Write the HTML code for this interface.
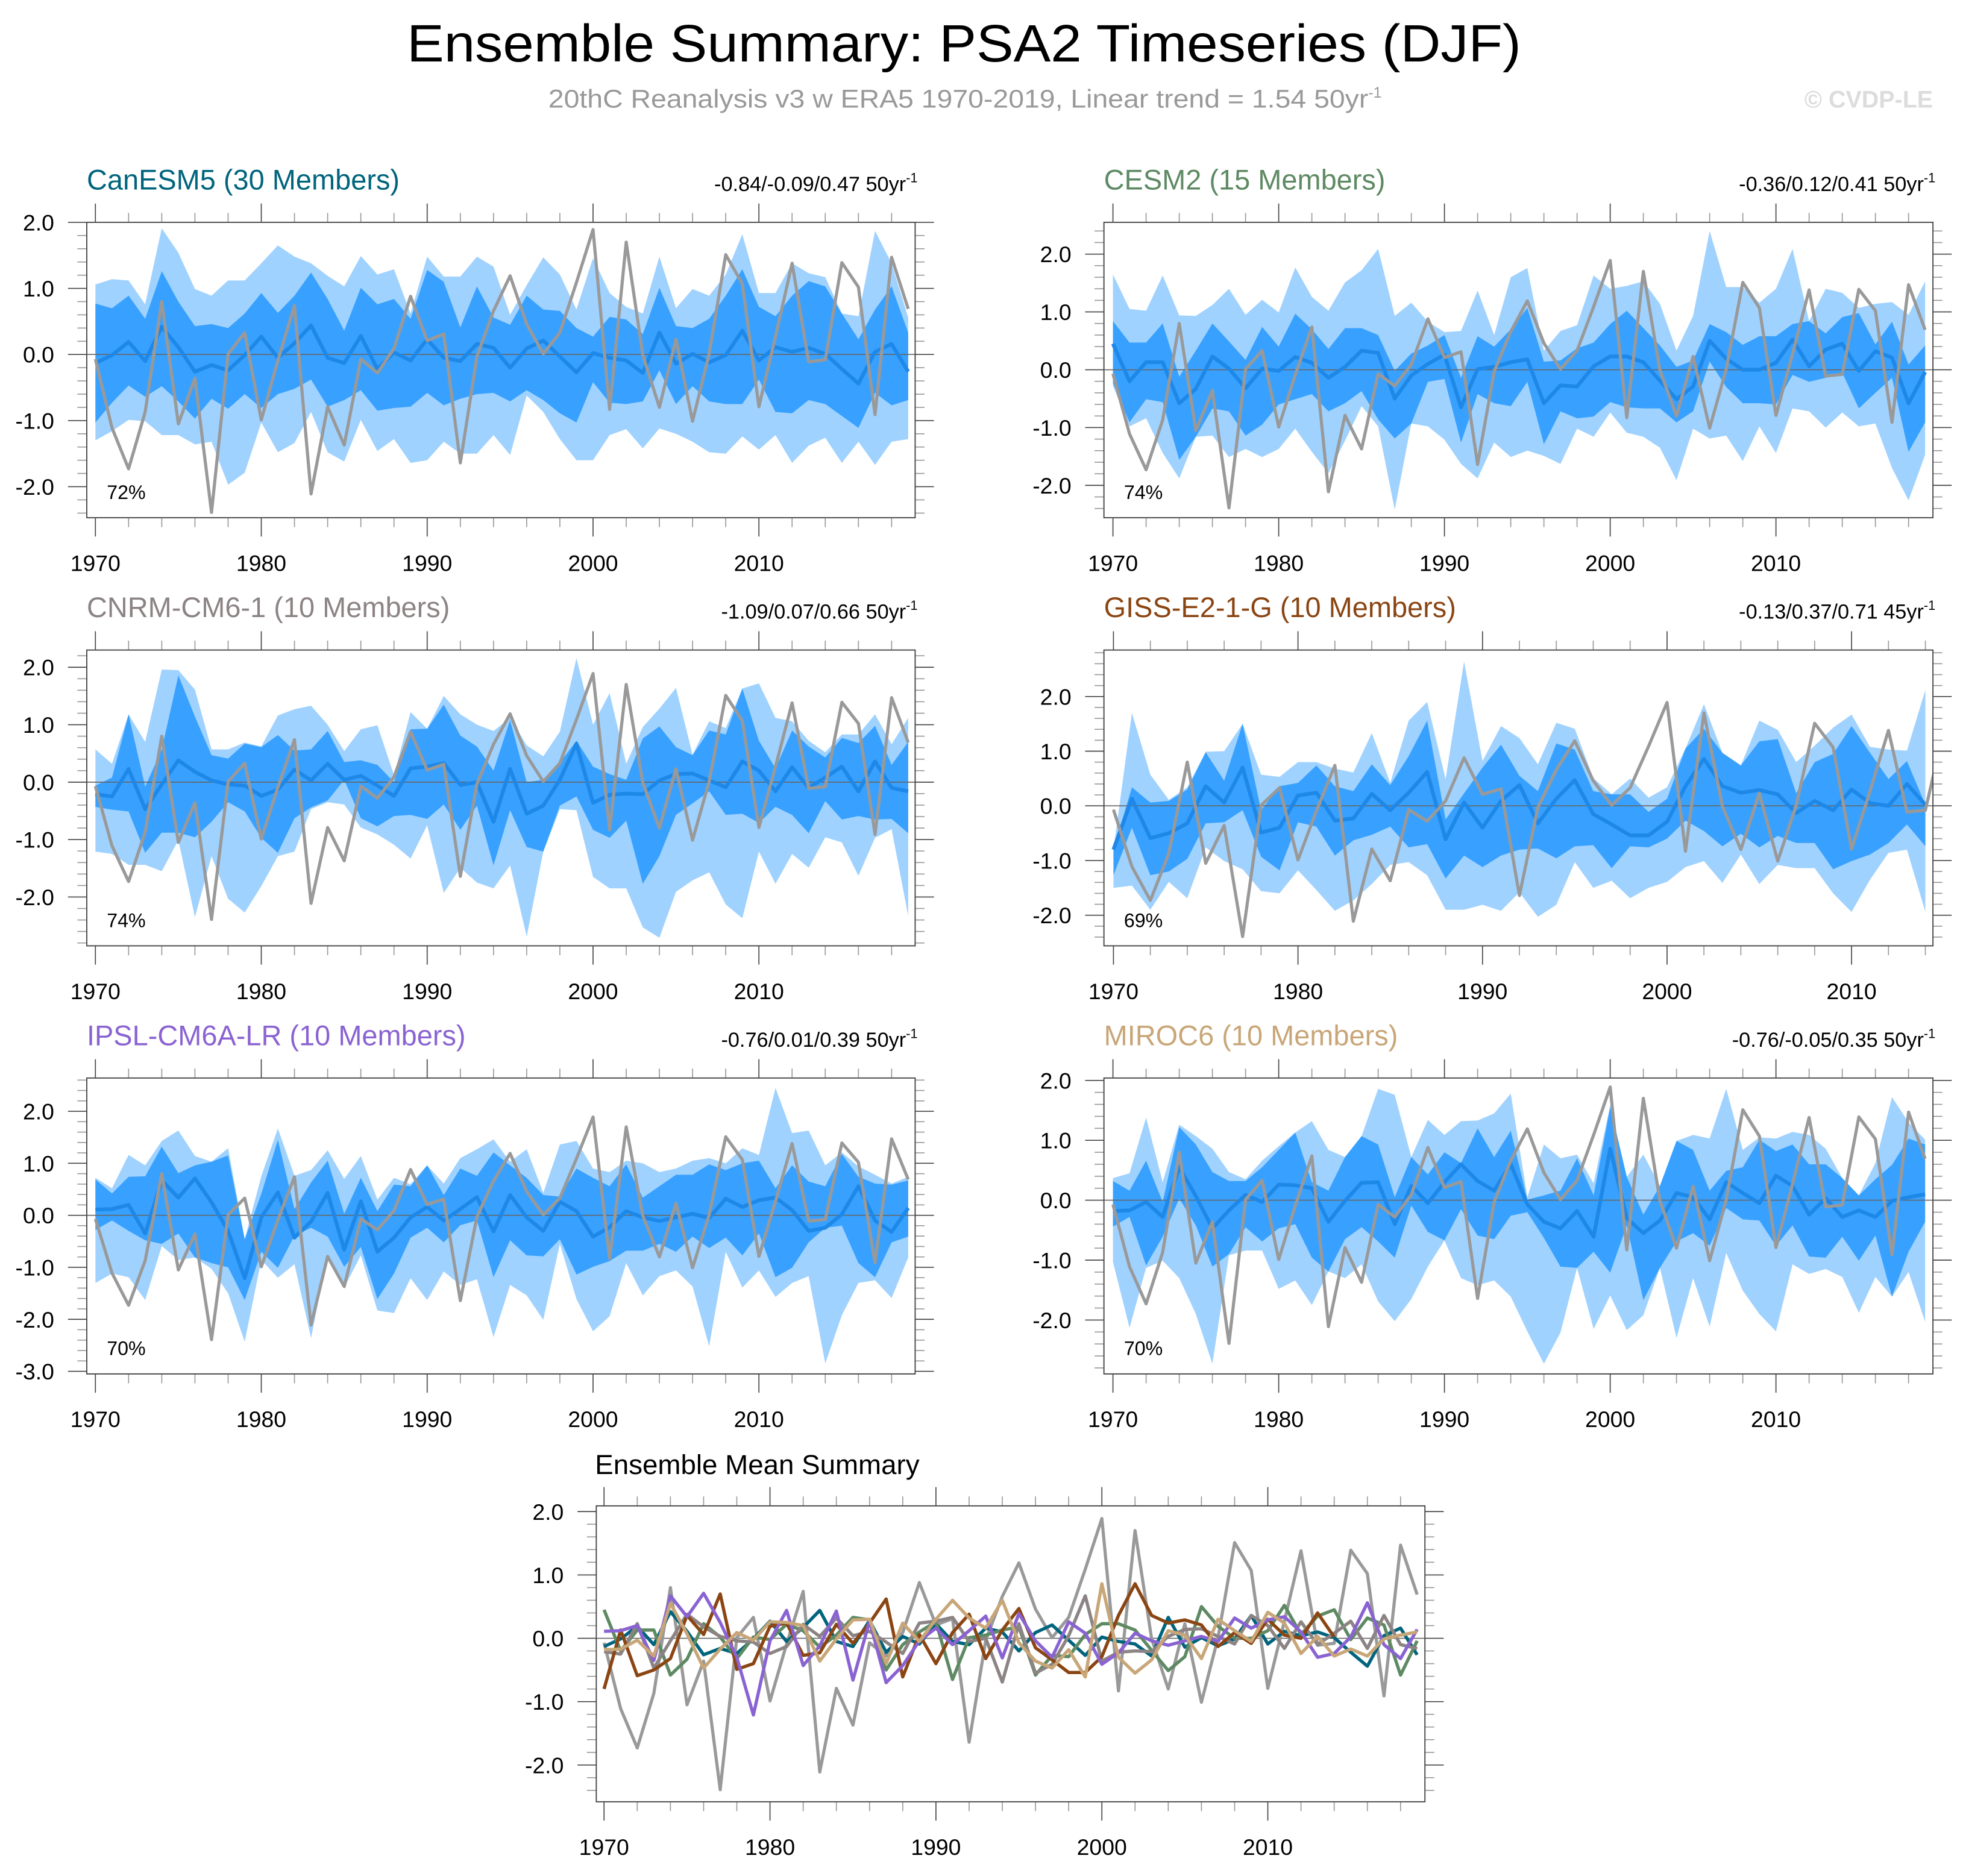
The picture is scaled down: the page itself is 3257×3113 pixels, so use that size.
<!DOCTYPE html>
<html>
<head>
<meta charset="utf-8">
<style>
html,body{margin:0;padding:0;background:#fff;}
svg{display:block;}
text{font-family:"Liberation Sans",Arial,sans-serif;}
</style>
</head>
<body>
<svg id="chart" xmlns="http://www.w3.org/2000/svg" width="3257" height="3113" viewBox="0 0 1568 1498.7">
  <rect x="0" y="0" width="1568" height="1498.7" fill="#fff"/>
  <text x="770" y="49" text-anchor="middle" font-size="42" textLength="890" lengthAdjust="spacingAndGlyphs" fill="#000">Ensemble Summary: PSA2 Timeseries (DJF)</text>
  <text x="438" y="86" font-size="20.5" fill="#999"><tspan textLength="655" lengthAdjust="spacingAndGlyphs">20thC Reanalysis v3 w ERA5 1970-2019, Linear trend = 1.54 50yr</tspan><tspan dy="-8" font-size="12">-1</tspan></text>
  <text x="1544" y="86" text-anchor="end" font-size="19" font-weight="bold" fill="#dcdcdc">© CVDP-LE</text>
  <g id="panels"></g>
</svg>
<script>
// ---------- data ----------
const xLabels = ['1970','1980','1990','2000','2010'];
const yTicks5 = [2, 1, 0, -1, -2];
const yTicks6 = [2, 1, 0, -1, -2, -3];

const obs = [-0.07,-1.11,-1.73,-0.87,0.8,-1.05,-0.36,-2.39,0.01,0.33, -0.99,-0.09,0.74,-2.11,-0.79,-1.37,-0.07,-0.28,0.09,0.88, 0.21,0.31,-1.64,-0.03,0.66,1.19,0.46,0.01,0.33,1.09, 1.89,-0.83,1.7,-0.01,-0.8,0.23,-1.01,0.01,1.51,1.07, -0.79,0.27,1.38,-0.11,-0.08,1.39,1.02,-0.91,1.47,0.69];

// CanESM5
const p1Mean = [-0.13,-0.01,0.19,-0.1,0.42,0.11,-0.26,-0.16,-0.24,-0.01, 0.27,-0.05,0.17,0.44,-0.05,-0.13,0.28,-0.22,0.03,-0.09, 0.23,-0.05,-0.1,0.16,0.1,-0.2,0.09,0.21,-0.03,-0.27, 0.02,-0.05,-0.09,-0.28,0.33,-0.14,0.01,-0.12,-0.01,0.36, -0.09,0.11,0.04,0.1,0.01,-0.22,-0.44,0.04,0.16,-0.26];
const p1DarkHi = [0.77,0.7,0.89,0.54,1.26,0.8,0.43,0.46,0.4,0.62, 0.93,0.63,0.89,1.24,0.84,0.36,1.01,0.76,0.84,0.54, 1.28,1.1,0.41,1.03,0.56,0.45,0.89,0.68,0.66,0.4, 0.27,0.57,0.53,0.31,1.01,0.43,0.4,0.54,0.89,1.29, 0.72,0.58,0.89,1.11,1.03,0.62,0.23,0.68,1.03,0.33];
const p1DarkLo = [-1.03,-0.73,-0.47,-0.64,-0.48,-0.71,-0.97,-0.67,-0.82,-0.6, -0.81,-0.6,-0.52,-0.38,-0.79,-0.69,-0.54,-0.85,-0.81,-0.79, -0.58,-0.77,-0.67,-0.6,-0.58,-0.71,-0.54,-0.69,-0.89,-1.03, -0.42,-0.73,-0.75,-0.71,-0.24,-0.75,-0.48,-0.71,-0.75,-0.75, -0.38,-0.87,-0.89,-0.69,-0.75,-0.93,-1.11,-0.58,-0.77,-0.69];
const p1LightHi = [1.06,1.14,1.12,0.76,1.91,1.54,0.99,0.89,1.12,1.12, 1.38,1.65,1.48,1.38,1.19,1.03,1.49,1.21,1.29,0.62, 1.48,1.18,1.18,1.48,1.33,0.6,1.05,1.47,1.21,0.68, 1.46,0.93,0.72,0.62,1.48,0.7,0.99,0.89,1.21,1.82, 0.93,0.93,1.38,1.23,1.17,0.57,0.58,1.87,1.38,0.56];
const p1LightLo = [-1.3,-1.16,-0.99,-1.01,-1.22,-1.22,-1.36,-1.32,-1.97,-1.79, -1.03,-1.48,-1.34,-0.87,-1.48,-1.62,-0.99,-1.46,-1.28,-1.64, -1.6,-1.32,-1.5,-1.5,-1.22,-1.52,-0.62,-0.87,-1.28,-1.6, -1.6,-1.22,-1.13,-1.42,-1.12,-1.2,-1.32,-1.48,-1.5,-1.24, -1.44,-1.22,-1.64,-1.38,-1.26,-1.64,-1.32,-1.67,-1.32,-1.28];

// CESM2
const p2Mean = [0.45,-0.2,0.13,0.13,-0.58,-0.33,0.23,0.02,-0.32,0.02, -0.02,0.22,0.12,-0.14,0.05,0.33,0.29,-0.5,-0.1,0.1, 0.26,-0.65,0.01,0.05,0.13,0.18,-0.58,-0.27,-0.29,0.06, 0.23,0.23,0.13,-0.19,-0.51,-0.29,0.5,0.19,0,0, 0.12,0.52,0.06,0.35,0.45,-0.02,0.32,0.21,-0.58,-0.04];
const p2DarkHi = [0.84,0.47,0.47,0.8,-0.12,0.33,0.8,0.49,0.17,0.74, 0.4,0.97,0.7,0.36,0.72,0.72,0.6,-0.02,0.28,0.42, 0.6,-0.14,0.58,0.4,0.7,1.07,0.14,0.16,0.37,0.47, 0.79,1.02,0.72,0.42,0.05,0.16,0.79,0.65,0.43,0.58, 0.58,0.79,0.84,0.63,0.91,0.98,0.44,0.83,0.09,0.42];
const p2DarkLo = [-0.23,-0.91,-0.51,-0.56,-1.56,-1.16,-0.67,-0.72,-1.14,-0.95, -0.6,-0.51,-0.42,-0.72,-0.58,-0.37,-0.86,-1.19,-0.93,-0.21, -0.16,-1.26,-0.42,-0.58,-0.63,-0.21,-1.29,-0.72,-0.84,-0.81, -0.56,-0.65,-0.67,-0.67,-0.91,-0.72,0.14,-0.3,-0.58,-0.58, -0.6,-0.09,-0.21,-0.14,-0.05,-0.67,-0.4,-0.14,-1.42,-0.91];
const p2LightHi = [1.65,1.05,1.02,1.63,0.94,0.93,1.12,1.4,0.95,1.21, 0.99,1.77,1.26,1.02,1.51,1.72,2.09,0.93,1.16,0.83, 0.65,0.67,1.37,0.6,1.6,1.76,0.33,0.67,0.77,1.63, 1.4,1.45,1.53,1.14,0.33,0.93,2.4,1.43,1.43,1.16, 1.4,2.09,0.81,1.4,1.33,1.07,1.14,1.17,0.95,1.53];
const p2LightLo = [-0.28,-0.98,-0.84,-1.44,-1.88,-1.16,-1.14,-1.51,-1.37,-1.51, -1.37,-1.02,-1.42,-1.79,-1.23,-0.63,-0.98,-2.42,-0.91,-0.98, -1.21,-1.63,-1.88,-1.26,-1.51,-1.4,-1.49,-1.63,-1.02,-1.16, -0.74,-1.09,-1.16,-1.35,-1.91,-1.02,-1.19,-1.14,-1.58,-0.98, -1.44,-0.67,-0.72,-1.0,-0.74,-0.98,-0.93,-1.7,-2.26,-1.47];

// CNRM-CM6-1
const p3Mean = [-0.21,-0.25,0.23,-0.47,-0.04,0.38,0.18,0.03,-0.04,-0.06, -0.24,-0.13,0.22,0.03,0.32,0.04,0.11,-0.06,-0.24,0.24, 0.27,0.33,-0.05,0,-0.69,0.23,-0.55,-0.41,0.04,0.67, -0.36,-0.22,-0.2,-0.21,0.03,0.14,0.15,0.03,-0.09,0.36, 0.2,-0.16,0.26,-0.1,0.08,0.27,-0.16,0.36,-0.1,-0.16];
const p3DarkHi = [-0.06,0.08,1.18,-0.08,0.57,1.86,1.14,0.47,0.41,0.67, 0.61,0.82,0.55,0.57,0.89,0.35,0.38,0.3,0,0.92, 0.93,1.35,0.81,0.62,0.2,1.08,0,0.04,0.34,0.72, 0.27,0.14,0.04,0.76,0.97,0.61,0.47,0.9,0.83,1.63, 0.72,0.24,0.9,0.62,0.43,0.77,0.68,0.98,0.3,0.7];
const p3DarkLo = [-0.43,-0.48,-0.51,-1.23,-0.88,-0.88,-0.96,-0.69,-0.35,-0.51, -0.97,-1.23,-0.63,-0.44,-0.32,0.04,-0.63,-0.77,-0.59,-0.57, -0.64,-0.39,-0.83,-0.41,-1.45,-0.49,-1.13,-1.21,-0.41,-0.25, -0.83,-0.97,-0.67,-1.77,-1.29,-0.57,-0.37,-0.16,-0.57,-0.55, -0.71,-0.43,-0.57,-0.89,-0.33,-0.65,-0.59,-0.65,-0.64,-0.89];
const p3LightHi = [0.57,0.32,1.16,0.7,1.96,1.95,1.61,0.57,0.57,0.69, 0.62,1.16,1.27,1.33,1.0,0.54,0.92,0.99,0.12,1.22, 0.93,1.5,1.18,1.0,0.89,1.12,0.64,0.45,0.88,2.16, 1.0,1.55,0.32,0.96,1.28,1.64,0.48,1.06,0.94,1.63, 1.72,1.12,1.06,0.72,0.52,0.83,0.83,1.18,0.66,1.12];
const p3LightLo = [-1.21,-1.25,-1.44,-1.44,-1.55,-1.01,-2.35,-1.29,-2.03,-2.27, -1.81,-1.29,-1.21,-0.47,-0.35,-0.39,-0.79,-0.91,-1.09,-1.33, -0.75,-1.93,-1.49,-1.75,-1.85,-1.45,-2.69,-1.21,-0.47,-0.49, -1.65,-1.85,-1.85,-2.53,-2.71,-1.91,-1.71,-1.57,-2.13,-2.37, -1.21,-1.77,-1.25,-1.49,-0.96,-1.05,-1.63,-0.97,-0.82,-2.33];

// GISS-E2-1-G (1970-2014)
const p4Mean = [-0.8,0.13,-0.59,-0.5,-0.32,0.36,0.06,0.7,-0.49,-0.4, 0.19,0.24,-0.27,-0.23,0.22,-0.08,0.24,0.62,-0.61,0.06, -0.4,0.09,0.38,-0.32,0.13,0.47,-0.15,-0.34,-0.54,-0.54, -0.29,0.36,0.86,0.36,0.24,0.29,0.21,-0.13,0.09,-0.08, 0.3,0.05,0,0.4,0.02];
const p4DarkHi = [-0.8,0.34,0.06,0.09,0.3,0.98,0.46,1.5,-0.08,0.36, 0.42,0.74,0.36,0.27,0.76,0.38,0.91,1.56,-0.25,0.23, 0.7,1.12,0.55,0.27,1.14,1.03,0.27,0.21,0.21,-0.11, 0.13,1.05,1.41,0.97,0.74,1.18,1.22,0.23,0.8,0.95, 1.46,0.97,0.49,0.82,0.02];
const p4DarkLo = [-1.27,-0.4,-1.27,-1.2,-0.97,-0.32,-0.3,-0.08,-0.93,-1.18, -0.3,-0.38,-0.91,-0.63,-0.53,-0.38,-0.76,-0.7,-1.33,-0.91, -1.12,-0.91,-0.8,-0.78,-0.96,-0.74,-0.72,-1.14,-0.74,-0.76, -0.6,-0.27,-0.46,-0.74,-0.51,-0.76,-0.55,-0.68,-0.68,-1.16, -1.01,-0.89,-0.68,-0.34,-0.74];
const p4LightHi = [-0.8,1.7,0.57,0.11,0.34,0.99,1.0,1.5,0.57,0.53, 0.8,0.8,0.68,0.61,1.33,0.42,1.56,1.9,0.49,2.64, 0.82,1.46,1.24,0.76,1.52,1.41,0.51,0.21,0.5,0.15, 0.34,0.76,1.86,0.97,0.74,1.56,1.39,0.8,1.1,1.43, 1.67,1.08,1.03,1.01,2.12];
const p4LightLo = [-1.5,-1.46,-1.9,-1.39,-1.69,-0.76,-1.01,-1.16,-1.56,-1.6, -1.18,-1.54,-1.92,-1.73,-1.43,-1.08,-1.03,-1.27,-1.9,-1.9, -1.81,-1.92,-1.58,-2.03,-1.81,-1.03,-1.5,-1.37,-1.69,-1.5, -1.39,-1.12,-1.01,-1.41,-0.89,-1.43,-1.08,-1.14,-1.14,-1.6, -1.94,-1.35,-0.86,-0.8,-1.94];

// IPSL-CM6A-LR
const p5Mean = [0.11,0.12,0.2,-0.35,0.67,0.34,0.71,0.25,-0.3,-1.21, -0.04,0.44,-0.43,-0.12,0.43,-0.66,0.27,-0.7,-0.43,-0.04, 0.16,-0.1,0.12,0.35,-0.31,0.39,-0.04,-0.3,0.26,0.08, -0.41,-0.23,0.08,-0.04,-0.11,-0.04,0.03,-0.05,0.32,0.16, 0.29,0.34,0.1,-0.3,-0.24,0.02,0.56,-0.1,-0.32,0.14];
const p5DarkHi = [0.69,0.42,0.74,0.75,1.32,0.81,0.96,1.03,1.15,-0.46, 0.41,1.45,0.12,0.63,1.05,0.03,0.72,0.08,0.59,0.56, 0.96,0.39,0.9,0.76,1.21,0.96,0.72,0.39,0.36,0.9, 0.72,0.56,0.98,0.34,0.56,0.78,0.78,0.98,0.87,1.0, 1.05,0.52,0.96,0.65,0.56,1.18,0.74,0.61,0.59,0.67];
const p5DarkLo = [-0.28,-0.1,-0.3,-0.48,-0.55,-0.35,-0.81,-0.92,-1.0,-1.63, -0.7,-1.01,-0.39,-0.24,-0.41,-0.99,-0.61,-1.61,-1.12,-0.43, -0.24,-0.52,-0.19,-0.1,-1.19,-0.48,-0.77,-0.79,-0.46,-1.14, -0.99,-0.88,-0.68,-0.68,-0.55,-0.7,-0.41,-0.63,-0.43,-0.77, -0.35,-1.19,-1.01,-0.52,-0.24,-0.2,-0.92,-1.19,-0.52,-0.41];
const p5LightHi = [0.72,0.52,1.16,0.96,1.43,1.63,1.14,1.0,1.29,-0.46, 0.75,1.67,0.76,0.87,1.25,0.7,1.14,0.3,0.72,0.6, 0.96,0.61,1.1,1.27,1.46,1.03,1.27,0.43,1.36,1.43, 0.9,0.83,1.05,1.0,0.83,0.9,1.05,1.1,1.0,1.29, 1.16,2.45,1.58,1.63,0.96,1.21,0.94,0.78,0.61,0.74];
const p5LightLo = [-1.3,-1.12,-1.19,-1.63,-0.59,-0.86,-0.72,-1.03,-1.5,-2.43, -0.86,-1.2,-0.94,-2.36,-0.77,-1.39,-0.77,-1.83,-1.88,-1.21, -1.63,-1.08,-1.34,-1.23,-2.34,-1.34,-1.54,-2.01,-0.55,-1.61, -2.23,-1.94,-0.92,-1.54,-1.17,-1.06,-1.37,-2.52,-0.7,-1.39, -1.06,-1.57,-1.3,-1.17,-2.85,-1.92,-1.3,-1.25,-1.59,-0.81];

// MIROC6
const p6Mean = [-0.18,-0.17,-0.03,-0.28,0.55,0.07,-0.47,-0.17,0.09,-0.03, 0.26,0.25,0.2,-0.36,-0.01,0.29,0.3,-0.4,0.24,-0.05, 0.3,0.6,0.32,0.16,0.6,-0.07,-0.36,-0.47,-0.18,-0.61, 0.86,-0.3,-0.55,-0.34,0.12,0.05,-0.32,0.3,0.12,-0.05, 0.41,0.24,-0.24,0.03,-0.28,-0.17,-0.28,-0.01,0.05,0.1];
const p6DarkHi = [0.32,0.16,0.66,-0.03,1.22,0.93,0.47,0.32,0.32,0.55, 0.84,1.13,0.3,0.16,0.72,1.07,0.93,0.05,0.72,0.43, 0.8,0.62,1.2,0.72,1.16,0.01,0.08,0.16,0.7,0.08, 1.55,0.39,-0.24,0.24,0.99,0.84,0.16,0.49,0.55,1.01, 0.82,0.93,0.6,0.6,0.37,0.08,0.35,0.59,1.03,0.93];
const p6DarkLo = [-0.44,-0.28,-1.09,-0.61,0.03,-0.42,-1.11,-0.9,-0.45,-0.69, -0.47,-0.4,-0.96,-1.19,-0.65,-0.45,-0.69,-0.96,-0.09,-0.53, -0.67,-0.15,-0.59,-0.65,-0.26,-0.2,-0.63,-1.11,-1.13,-0.86, -1.21,-0.42,-1.67,-1.13,-0.69,-0.55,-0.76,-0.13,-0.32,-0.34, -0.76,-0.42,-0.94,-0.96,-0.61,-1.01,-0.59,-1.61,-0.86,-0.36];
const p6LightHi = [0.37,0.45,1.38,0.3,1.26,1.07,0.86,0.47,0.35,0.66, 0.9,1.13,1.32,0.84,0.7,0.84,1.86,1.76,0.66,1.34, 1.09,1.32,1.33,1.45,1.78,0.05,0.93,0.7,0.76,0.28, 1.59,0.32,0.76,0.1,0.1,1.09,1.03,1.86,0.84,1.05, 1.03,1.14,1.09,0.86,0.24,0.05,0.62,1.72,1.3,1.01];
const p6LightLo = [-1.03,-2.13,-1.13,-1.01,-1.3,-1.9,-2.73,-0.92,-0.84,-0.84, -1.48,-1.34,-1.75,-0.86,-1.3,-1.07,-1.69,-2.02,-1.65,-1.11, -0.3,-1.3,-1.42,-1.34,-1.61,-2.19,-2.73,-2.21,-0.61,-2.15, -1.59,-2.17,-1.92,-1.01,-2.3,-1.3,-2.11,-0.88,-1.51,-1.9, -2.19,-1.07,-1.23,-1.15,-1.28,-1.88,-1.28,-1.15,-1.2,-2.03];

// ---------- layout (not data) ----------
const panels = [
  {key:'canesm5', title:'CanESM5 (30 Members)', color:'#00647d', trend:'-0.84/-0.09/0.47 50yr', pct:'72%',
   left:69.3,right:731,top:177.6,bottom:413.6,yMin:-2.47,yMax:2.0,x0:76.2,dx:13.25,ticks:yTicks5,
   mean:p1Mean,darkHi:p1DarkHi,darkLo:p1DarkLo,lightHi:p1LightHi,lightLo:p1LightLo},
  {key:'cesm2', title:'CESM2 (15 Members)', color:'#5e8a63', trend:'-0.36/0.12/0.41 50yr', pct:'74%',
   left:881.8,right:1544,top:177.6,bottom:413.6,yMin:-2.56,yMax:2.55,x0:889,dx:13.24,ticks:yTicks5,
   mean:p2Mean,darkHi:p2DarkHi,darkLo:p2DarkLo,lightHi:p2LightHi,lightLo:p2LightLo},
  {key:'cnrm-cm6-1', title:'CNRM-CM6-1 (10 Members)', color:'#8c8384', trend:'-1.09/0.07/0.66 50yr', pct:'74%',
   left:69.3,right:731,top:519.3,bottom:755.6,yMin:-2.85,yMax:2.30,x0:76.2,dx:13.25,ticks:yTicks5,
   mean:p3Mean,darkHi:p3DarkHi,darkLo:p3DarkLo,lightHi:p3LightHi,lightLo:p3LightLo},
  {key:'giss-e2-1-g', title:'GISS-E2-1-G (10 Members)', color:'#8b4513', trend:'-0.13/0.37/0.71 45yr', pct:'69%',
   left:881.8,right:1544,top:519.3,bottom:755.6,yMin:-2.56,yMax:2.85,x0:889.4,dx:14.74,ticks:yTicks5,
   mean:p4Mean,darkHi:p4DarkHi,darkLo:p4DarkLo,lightHi:p4LightHi,lightLo:p4LightLo},
  {key:'ipsl-cm6a-lr', title:'IPSL-CM6A-LR (10 Members)', color:'#8a63d2', trend:'-0.76/0.01/0.39 50yr', pct:'70%',
   left:69.3,right:731,top:861.2,bottom:1097.6,yMin:-3.05,yMax:2.64,x0:76.2,dx:13.25,ticks:yTicks6,
   mean:p5Mean,darkHi:p5DarkHi,darkLo:p5DarkLo,lightHi:p5LightHi,lightLo:p5LightLo},
  {key:'miroc6', title:'MIROC6 (10 Members)', color:'#c8a678', trend:'-0.76/-0.05/0.35 50yr', pct:'70%',
   left:881.8,right:1544,top:861.2,bottom:1097.6,yMin:-2.9,yMax:2.04,x0:889,dx:13.24,ticks:yTicks5,
   mean:p6Mean,darkHi:p6DarkHi,darkLo:p6DarkLo,lightHi:p6LightHi,lightLo:p6LightLo}
];
const summary = {left:476.3,right:1138.2,top:1203,bottom:1439.4,yMin:-2.58,yMax:2.09,x0:482.5,dx:13.255,ticks:yTicks5};

const NS = 'http://www.w3.org/2000/svg';
const root = document.getElementById('panels');
function mk(tag, attrs, parent){
  const e = document.createElementNS(NS, tag);
  for (const k in attrs) e.setAttribute(k, attrs[k]);
  parent.appendChild(e);
  return e;
}
function scales(p){
  const xs = i => p.x0 + i * p.dx;
  const ys = v => p.top + (p.yMax - v) / (p.yMax - p.yMin) * (p.bottom - p.top);
  return {xs, ys};
}
function linePts(arr, s){ return arr.map((v,i)=> s.xs(i).toFixed(2)+','+s.ys(v).toFixed(2)).join(' '); }
function bandPts(hi, lo, s){
  const a = hi.map((v,i)=> s.xs(i).toFixed(2)+','+s.ys(v).toFixed(2));
  const b = lo.map((v,i)=> s.xs(i).toFixed(2)+','+s.ys(v).toFixed(2)).reverse();
  return a.concat(b).join(' ');
}

function drawAxes(p, g, nYears, key){
  const s = scales(p);
  for (let yr = 0; yr < nYears; yr += 2){
    const major = yr % 10 === 0;
    const len = major ? 15 : 7.5;
    const x = s.xs(yr);
    const t1 = mk('line', {x1:x, x2:x, y1:p.top, y2:p.top-len, stroke: major?'#444':'#999', 'stroke-width':0.8}, g);
    
    
    const t2 = mk('line', {x1:x, x2:x, y1:p.bottom, y2:p.bottom+len, stroke: major?'#444':'#999', 'stroke-width':0.8}, g);
    
    
  }
  xLabels.forEach((lab, k) => {
    const x = s.xs(k*10);
    const t = mk('text', {x:x, y:p.bottom+42.5, 'text-anchor':'middle', 'font-size':18, fill:'#000'}, g);
    t.textContent = lab;
    
    
  });
  const lo = Math.ceil(p.yMin/0.2 - 1e-6), hi = Math.floor(p.yMax/0.2 + 1e-6);
  for (let k = lo; k <= hi; k++){
    const v = k*0.2;
    const major = (k % 5 === 0);
    const len = major ? 15 : 7.5;
    const y = s.ys(v);
    const a = mk('line', {x1:p.left, x2:p.left-len, y1:y, y2:y, stroke: major?'#444':'#999', 'stroke-width':0.8}, g);
    
    
    const b = mk('line', {x1:p.right, x2:p.right+len, y1:y, y2:y, stroke: major?'#444':'#999', 'stroke-width':0.8}, g);
    
    
  }
  p.ticks.forEach(v => {
    const t = mk('text', {x:p.left-26, y:s.ys(v)+6.5, 'text-anchor':'end', 'font-size':18, fill:'#000'}, g);
    t.textContent = v.toFixed(1);
    
    
  });
  const cp = mk('clipPath', {id:'clip-'+key}, g);
  mk('rect', {x:p.left, y:p.top, width:p.right-p.left, height:p.bottom-p.top}, cp);
  return s;
}

panels.forEach(p => {
  const g = mk('g', {}, root);
  
  
  const n = p.mean.length;
  const s = drawAxes(p, g, n, p.key);
  const lh = p.lightHi.map((v,i)=> Math.max(v, p.darkHi[i]));
  const ll = p.lightLo.map((v,i)=> Math.min(v, p.darkLo[i]));
  const light = mk('polygon', {points: bandPts(lh, ll, s), fill:'#a0d2ff', stroke:'none'}, g);
  
  
  const dark = mk('polygon', {points: bandPts(p.darkHi, p.darkLo, s), fill:'#38a1ff', stroke:'none'}, g);
  
  
  const z = mk('line', {x1:p.left, x2:p.right, y1:s.ys(0), y2:s.ys(0), stroke:'#666', 'stroke-width':0.8}, g);
  
  
  const m = mk('polyline', {points: linePts(p.mean, s), fill:'none', stroke:'#1e88e8', 'stroke-width':3, 'stroke-linejoin':'round'}, g);
  
  
  const o = mk('polyline', {points: linePts(obs, s), fill:'none', stroke:'#999', 'stroke-width':2.5, 'stroke-linejoin':'round', 'clip-path':'url(#clip-'+p.key+')'}, g);
  
  
  const box = mk('rect', {x:p.left, y:p.top, width:p.right-p.left, height:p.bottom-p.top, fill:'none', stroke:'#444', 'stroke-width':0.9}, g);
  
  
  const t = mk('text', {x:p.left, y:p.top-26.2, 'font-size':22.6, fill:p.color}, g);
  t.textContent = p.title;
  
  
  const tr = mk('text', {x:p.right+2, y:p.top-25, 'text-anchor':'end', 'font-size':16.5, fill:'#000'}, g);
  
  
  const ts1 = mk('tspan', {}, tr); ts1.textContent = p.trend;
  const ts2 = mk('tspan', {dy:-7, 'font-size':10.5}, tr); ts2.textContent = '-1';
  const pc = mk('text', {x:p.left+16, y:p.bottom-15, 'font-size':15.5, fill:'#000'}, g);
  pc.textContent = p.pct;
  
  
});

(function(){
  const p = summary;
  const g = mk('g', {}, root);
  
  
  const s = drawAxes(p, g, 50, 'summary');
  const z = mk('line', {x1:p.left, x2:p.right, y1:s.ys(0), y2:s.ys(0), stroke:'#666', 'stroke-width':0.8}, g);
  
  
  const o = mk('polyline', {points: linePts(obs, s), fill:'none', stroke:'#999', 'stroke-width':2.5, 'stroke-linejoin':'round'}, g);
  
  
  panels.forEach(pp => {
    const l = mk('polyline', {points: linePts(pp.mean, s), fill:'none', stroke:pp.color, 'stroke-width':2.6, 'stroke-linejoin':'round'}, g);
    
    
  });
  const box = mk('rect', {x:p.left, y:p.top, width:p.right-p.left, height:p.bottom-p.top, fill:'none', stroke:'#444', 'stroke-width':0.9}, g);
  
  
  const t = mk('text', {x:p.left-1, y:1177.5, 'font-size':22, fill:'#000'}, g);
  t.textContent = 'Ensemble Mean Summary';
  
  
})();
</script>
</body>
</html>
